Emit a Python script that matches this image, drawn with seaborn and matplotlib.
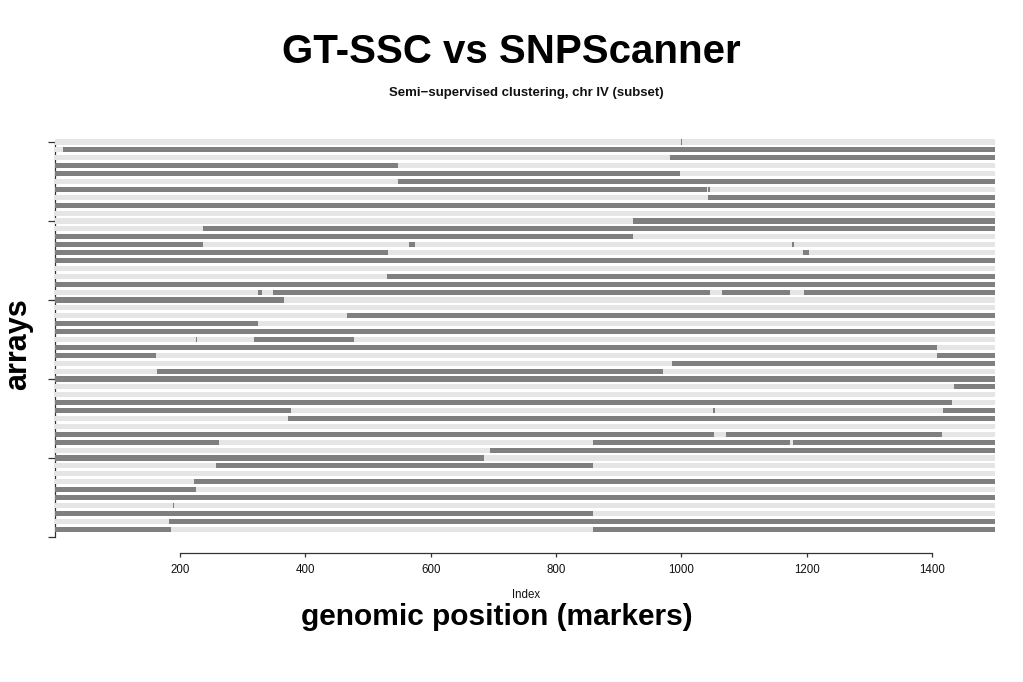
import matplotlib
matplotlib.use("Agg")
import matplotlib.pyplot as plt
import seaborn as sns

# arrays (rows) from top to bottom, and the called segments on each row
n_arrays = 50
n_markers = 1500

seg_row = [0, 1, 2, 3, 4, 5, 6, 6, 7, 8,
           10, 11, 12, 13, 13, 13, 14, 14, 15,
           17, 18, 19, 19, 19, 19, 20,
           22, 23, 24, 25, 25, 26, 27, 27, 28, 29, 30,
           31, 33, 34, 34, 34, 35, 37, 37, 38, 38, 38,
           39, 40, 41, 43, 44, 45, 46, 47, 48, 49, 49]
seg_start = [999, 13, 982, 0, 0, 548, 0, 1043, 1043, 0,
             922, 237, 0, 0, 565, 1177, 0, 1194, 0,
             530, 0, 324, 348, 1065, 1196, 0,
             467, 0, 0, 225, 318, 0, 0, 1408, 985, 163, 0,
             1435, 0, 0, 1051, 1417, 372, 0, 1071, 0, 859, 1178,
             695, 0, 257, 222, 0, 0, 188, 0, 182, 0, 859]
seg_end = [1001, 1500, 1500, 548, 998, 1500, 1041, 1045, 1500, 1500,
           1500, 1500, 923, 237, 575, 1179, 532, 1203, 1500,
           1500, 1500, 331, 1046, 1173, 1500, 366,
           1500, 324, 1500, 227, 478, 1408, 162, 1500, 1500, 971, 1500,
           1500, 1432, 377, 1053, 1500, 1500, 1052, 1416, 262, 1173, 1500,
           1500, 685, 859, 1500, 226, 1500, 190, 859, 1500, 186, 1500]

x_ticks = [200, 400, 600, 800, 1000, 1200, 1400]
y_ticks = [0, 10, 20, 30, 40, 50]

sns.set_theme(style="white")
plt.rcParams['font.family'] = ['Liberation Sans', 'DejaVu Sans']

fig = plt.figure(figsize=(10.23, 6.82), dpi=100)
ax = fig.add_axes([0.0535, 0.2068, 0.9189, 0.5908])

light = '#e5e5e5'
dark = '#7f7f7f'

# background band for every array
ax.barh(range(n_arrays), n_markers, left=0, height=0.65, color=light,
        linewidth=0, zorder=3)
# segments
widths = [e - s for s, e in zip(seg_start, seg_end)]
ax.barh(seg_row, widths, left=seg_start, height=0.65, color=dark,
        linewidth=0, zorder=4)

ax.set_xlim(0, n_markers)
ax.set_ylim(50.5, -0.5)

sns.despine(ax=ax, top=True, right=True)
ax.spines['bottom'].set_position(('outward', 8.4))
ax.spines['bottom'].set_bounds(200, 1400)
ax.spines['left'].set_bounds(0, 50)
for s in ['bottom', 'left']:
    ax.spines[s].set_color('#333333')
    ax.spines[s].set_linewidth(0.9)
    ax.spines[s].set_zorder(2)

ax.set_xticks(x_ticks)
ax.set_xticklabels([str(t) for t in x_ticks], fontsize=8.3, color='#111111')
ax.set_yticks(y_ticks)
ax.set_yticklabels([])
ax.tick_params(axis='x', direction='out', length=3.2, width=0.9,
               color='#333333', pad=5, bottom=True)
ax.tick_params(axis='y', direction='out', length=5, width=0.9,
               color='#333333', left=True)
ax.grid(False)

fig.text(0.5, 1 - 52 / 682, 'GT-SSC vs SNPScanner', ha='center', va='center',
         fontsize=29, fontweight='bold', color='black')
fig.text(526 / 1023, 1 - 93 / 682, 'Semi\u2212supervised clustering, chr IV (subset)',
         ha='center', va='center', fontsize=9.5, fontweight='bold', color='#111111')
fig.text(526 / 1023, 1 - 595 / 682, 'Index', ha='center', va='center',
         fontsize=8.3, color='#111111')
fig.text(497 / 1023, 1 - 617 / 682, 'genomic position (markers)', ha='center',
         va='center', fontsize=21.5, fontweight='bold', color='black')
fig.text(18 / 1023, 1 - 344 / 682, 'arrays', ha='center', va='center',
         rotation=90, fontsize=22, fontweight='bold', color='black')

fig.savefig('out.png', dpi=100)
